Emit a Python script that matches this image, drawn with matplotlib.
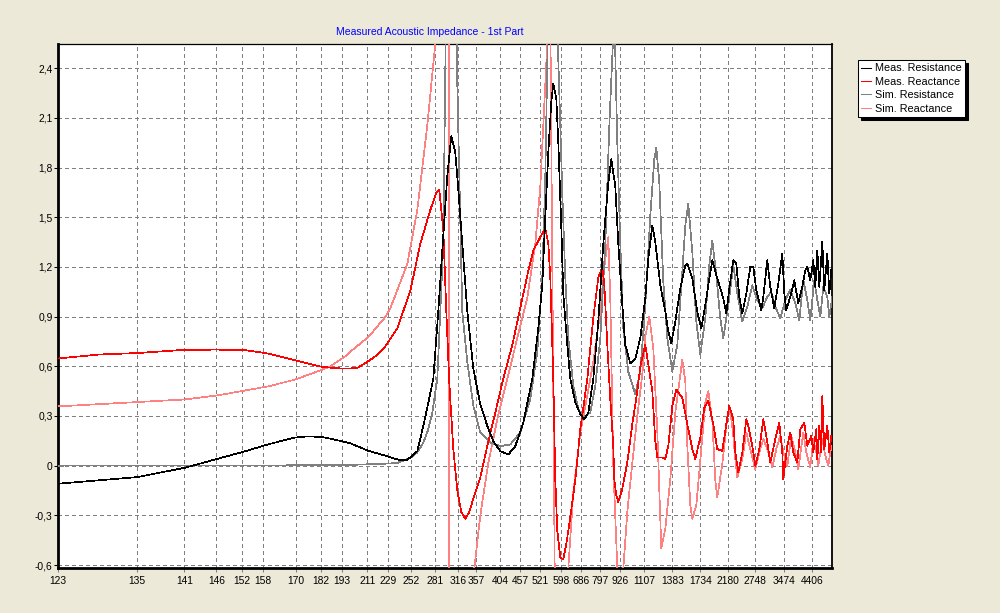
import matplotlib
matplotlib.use('Agg')

import matplotlib.pyplot as plt
from matplotlib.ticker import FuncFormatter

plt.rcParams['font.family'] = ['Liberation Sans', 'DejaVu Sans']

# x axis is the sample index, labelled with the frequency of that sample (Hz)
tick_freq = [123, 135, 141, 146, 152, 158, 170, 182, 193, 211, 229, 252, 281, 316,
             357, 404, 457, 521, 598, 686, 797, 926, 1107, 1383, 1734, 2180, 2748,
             3474, 4406]
tick_idx = [0, 79, 126, 158, 184, 205, 238, 263, 284, 309, 330, 353, 377, 400,
            418, 442, 462, 482, 503, 523, 542, 562, 586, 614, 642, 670, 697, 726, 754]
n_samples = 773.4

y_ticks = [-0.6, -0.3, 0.0, 0.3, 0.6, 0.9, 1.2, 1.5, 1.8, 2.1, 2.4]

#*************** measured resistance ***************
meas_res_idx = [0, 79, 127, 184, 210, 237, 250, 264, 272, 287, 292, 310, 327, 339, 343,
                349, 353, 359, 365, 370, 375, 380, 384, 389, 393, 397, 400, 404, 409,
                415, 422, 429, 435, 442, 450, 457, 465, 474, 480, 484, 487, 490, 493,
                495, 498, 500, 503, 505, 509, 512, 517, 522, 526, 530, 535, 540, 545,
                550, 553, 557, 560, 564, 567, 572, 577, 582, 587, 590, 594, 597, 602,
                607, 610, 613, 617, 622, 627, 629, 634, 639, 643, 647, 651, 654, 659,
                665, 668, 671, 675, 678, 681, 684, 688, 692, 695, 698, 703, 705, 709,
                712, 716, 720, 724, 726, 728, 732, 736, 740, 744, 747, 749, 752, 755,
                757, 759, 761, 764, 766, 769, 771, 773]
meas_res = [-0.109, -0.069, -0.012, 0.082, 0.129, 0.170, 0.177, 0.173, 0.163, 0.143,
            0.135, 0.090, 0.060, 0.038, 0.033, 0.036, 0.055, 0.087, 0.24, 0.38, 0.525,
            0.933, 1.30, 1.748, 1.99, 1.89, 1.666, 1.34, 0.933, 0.586, 0.37, 0.24,
            0.148, 0.087, 0.067, 0.118, 0.26, 0.525, 0.831, 1.096, 1.503, 1.89, 2.196,
            2.308, 2.216, 1.951, 1.442, 1.035, 0.729, 0.525, 0.382, 0.311, 0.28, 0.321,
            0.525, 0.872, 1.34, 1.707, 1.85, 1.687, 1.34, 0.973, 0.729, 0.617, 0.647,
            0.77, 1.01, 1.25, 1.45, 1.35, 1.09, 0.93, 0.81, 0.74, 0.87, 1.07, 1.21,
            1.22, 1.13, 0.93, 0.83, 0.97, 1.13, 1.24, 1.13, 1.01, 0.92, 1.07, 1.24,
            1.22, 1.02, 0.92, 1.04, 1.2, 1.2, 1.06, 0.94, 1.02, 1.24, 1.08, 0.95, 1.1,
            1.28, 1.04, 0.94, 1.02, 1.12, 0.98, 1.08, 1.18, 1.2, 1.12, 1.24, 1.08, 1.3,
            1.08, 1.35, 1.06, 1.28, 1.04, 1.18]

#*************** measured reactance ***************
meas_rea_idx = [0, 40, 79, 120, 157, 187, 210, 237, 264, 284, 295, 299, 309, 317, 322,
                327, 339, 352, 362, 372, 378, 381, 385, 388, 391, 395, 399, 403, 407,
                411, 415, 422, 429, 437, 445, 454, 462, 470, 475, 482, 487, 490, 492,
                495, 497, 499, 502, 505, 508, 512, 517, 522, 529, 535, 540, 544, 546,
                549, 552, 555, 556, 558, 560, 564, 569, 574, 579, 582, 587, 590, 594,
                597, 599, 604, 607, 610, 614, 618, 624, 629, 634, 637, 642, 646, 650,
                655, 659, 664, 668, 671, 675, 677, 680, 684, 688, 690, 694, 697, 701,
                705, 708, 712, 717, 721, 724, 725, 729, 732, 735, 739, 742, 746, 749,
                753, 755, 758, 759, 761, 763, 764, 766, 769, 771, 773]
meas_rea = [0.647, 0.671, 0.680, 0.697, 0.701, 0.697, 0.677, 0.636, 0.596, 0.586, 0.588,
            0.590, 0.627, 0.66, 0.688, 0.72, 0.83, 1.055, 1.34, 1.544, 1.646, 1.666,
            1.422, 0.933, 0.5, 0.1, -0.15, -0.28, -0.32, -0.28, -0.2, -0.07, 0.12,
            0.321, 0.525, 0.729, 0.953, 1.177, 1.30, 1.381, 1.432, 1.34, 1.136, 0.525,
            -0.086, -0.392, -0.555, -0.565, -0.474, -0.31, -0.086, 0.22, 0.525, 0.892,
            1.136, 1.198, 1.096, 0.729, 0.40, 0.116, -0.084, -0.18, -0.22, -0.14, 0.02,
            0.25, 0.45, 0.6, 0.73, 0.61, 0.45, 0.15, 0.05, 0.05, 0.04, 0.12, 0.36,
            0.46, 0.41, 0.25, 0.1, 0.04, 0.17, 0.35, 0.39, 0.25, 0.1, 0.09, 0.25, 0.36,
            0.28, 0.08, -0.04, 0.08, 0.28, 0.24, 0.12, 0.0, 0.1, 0.28, 0.18, 0.02, 0.16,
            0.26, 0.08, -0.08, 0.12, 0.2, 0.08, 0.02, 0.22, 0.26, 0.12, 0.18, 0.08,
            0.22, 0.04, 0.24, 0.08, 0.42, 0.1, 0.24, 0.08, 0.18]

#*************** simulated resistance ***************
sim_res_idx = [0, 240, 299, 327, 339, 352, 359, 365, 370, 374, 379, 382, 385, 392, 399,
               404, 409, 415, 422, 432, 442, 452, 462, 472, 479, 484, 487, 495, 500, 502,
               504, 507, 510, 515, 520, 525, 532, 537, 542, 547, 551, 556, 559, 562, 565,
               570, 572, 577, 582, 587, 592, 596, 598, 601, 605, 609, 614, 619, 624, 627,
               630, 634, 638, 642, 647, 651, 654, 658, 662, 665, 670, 675, 679, 684, 689,
               694, 699, 704, 709, 713, 717, 722, 727, 732, 737, 741, 745, 749, 752, 756,
               759, 762, 765, 769, 771, 774]
sim_res = [0.0, 0.002, 0.006, 0.012, 0.016, 0.046, 0.08, 0.138, 0.22, 0.32, 0.525, 0.933,
           1.34, 5.0, 2.3, 0.93, 0.627, 0.362, 0.2, 0.14, 0.118, 0.128, 0.2, 0.403, 0.688,
           1.136, 1.748, 4.5, 2.45, 2.05, 1.646, 1.136, 0.77, 0.484, 0.342, 0.29, 0.321,
           0.484, 0.77, 1.34, 2.05, 2.75, 1.95, 1.34, 0.831, 0.566, 0.53, 0.43, 0.57,
           0.97, 1.51, 1.85, 1.92, 1.71, 1.11, 0.77, 0.57, 0.73, 1.17, 1.45, 1.58, 1.29,
           0.87, 0.67, 0.89, 1.21, 1.36, 1.15, 0.89, 0.77, 0.97, 1.21, 1.04, 0.87, 0.96,
           1.09, 1.0, 0.95, 1.02, 1.05, 0.96, 0.89, 1.0, 1.06, 0.98, 0.88, 1.12, 1.0,
           0.88, 1.12, 1.0, 0.9, 1.08, 1.02, 0.9, 1.02]

#*************** simulated reactance ***************
sim_rea_idx = [0, 79, 127, 160, 210, 237, 264, 272, 287, 292, 310, 312, 327, 332, 349,
               359, 369, 377, 383, 390.6, 391.2, 402, 416, 422, 430, 439, 449, 459, 469,
               477, 482, 485, 489, 491, 496.5, 502, 510, 515, 522, 529, 535, 542, 546,
               550, 552, 555, 559, 562, 565, 569, 574, 579, 584, 587, 591, 595, 599, 603,
               607, 612, 617, 624, 627, 629, 632, 634, 638, 643, 647, 650, 654, 657, 659,
               664, 669, 672, 675, 677, 679, 684, 688, 692, 697, 701, 705, 709, 714, 718,
               722, 725, 729, 733, 737, 740, 745, 748, 752, 755, 758, 760, 764, 767, 770,
               773]
sim_rea = [0.358, 0.384, 0.40, 0.425, 0.479, 0.52, 0.58, 0.60, 0.66, 0.688, 0.777, 0.79,
           0.898, 0.95, 1.218, 1.544, 2.054, 2.55, 3.5, 10.0, -10.0, -1.5, -0.62, -0.3,
           0.016, 0.28, 0.525, 0.77, 1.014, 1.34, 1.687, 2.054, 2.55, 3.5, -0.7, -1.8,
           -0.62, -0.16, 0.2, 0.424, 0.627, 0.933, 1.2, 1.38, 1.0, 0.0, -0.62, -1.0,
           -0.62, -0.28, 0.016, 0.3, 0.55, 0.78, 0.9, 0.71, 0.21, -0.5, -0.38, -0.08,
           0.32, 0.64, 0.51, 0.12, -0.24, -0.32, -0.24, 0.1, 0.38, 0.45, 0.27, -0.09,
           -0.19, 0.01, 0.29, 0.33, 0.18, 0.04, -0.07, 0.04, 0.2, 0.1, -0.02, 0.08, 0.16,
           0.1, -0.01, 0.1, 0.18, 0.08, 0.0, 0.18, 0.08, -0.02, 0.2, 0.08, -0.01, 0.16,
           0.08, 0.0, 0.16, 0.06, 0.0, 0.12]


#******************************************PLOT*********************************************
fig = plt.figure(figsize=(10, 6.13), dpi=100, facecolor='#ece9d8')
ax = fig.add_axes([0.0583, 0.0742, 0.7734, 0.854])
ax.set_facecolor('white')

lw = 0.5
l_sr, = ax.plot(sim_rea_idx, sim_rea, color='#ff8080', lw=lw, antialiased=False,
                label='Sim. Reactance', zorder=3)
l_ss, = ax.plot(sim_res_idx, sim_res, color='#808080', lw=lw, antialiased=False,
                label='Sim. Resistance', zorder=3)
l_mr, = ax.plot(meas_rea_idx, meas_rea, color='#ff0000', lw=lw, antialiased=False,
                label='Meas. Reactance', zorder=4)
l_ms, = ax.plot(meas_res_idx, meas_res, color='black', lw=lw, antialiased=False,
                label='Meas. Resistance', zorder=4)

ax.set_xlim(0, n_samples)
ax.set_ylim(-0.615, 2.546)
ax.set_xticks(tick_idx)
ax.set_xticklabels([str(f) for f in tick_freq])
ax.set_yticks(y_ticks)
ax.yaxis.set_major_formatter(FuncFormatter(
    lambda v, p: '0' if abs(v) < 1e-9 else ('%.1f' % v).replace('.', ',')))

ax.grid(True, color='#808080', linestyle=(0, (4, 3)), lw=0.72, antialiased=False)
ax.set_axisbelow(True)
ax.tick_params(axis='both', labelsize=7.4, length=3, width=0.75, colors='black')
ax.tick_params(axis='x', pad=3, color='#808080')
ax.tick_params(axis='y', pad=1)

for side in ['left', 'bottom']:
    ax.spines[side].set_linewidth(2.0)
ax.spines['top'].set_linewidth(0.9)
ax.spines['right'].set_linewidth(1.3)

fig.text(0.43, 1 - 32 / 613, 'Measured Acoustic Impedance - 1st Part', color='blue',
         ha='center', va='center', fontsize=7.5)

leg = fig.legend(handles=[l_ms, l_mr, l_ss, l_sr], loc='upper left',
                 bbox_to_anchor=(0.858, 0.902), frameon=True, fancybox=False,
                 edgecolor='black', framealpha=1,
                 shadow={'color': 'black', 'alpha': 1.0},
                 fontsize=7.8, handlelength=0.9, handletextpad=0.4,
                 labelspacing=0.32, borderpad=0.3, borderaxespad=0)
leg.get_frame().set_linewidth(0.75)
for h in leg.get_lines():
    h.set_linewidth(0.75)

plt.savefig('out.png', dpi=100, facecolor=fig.get_facecolor())
